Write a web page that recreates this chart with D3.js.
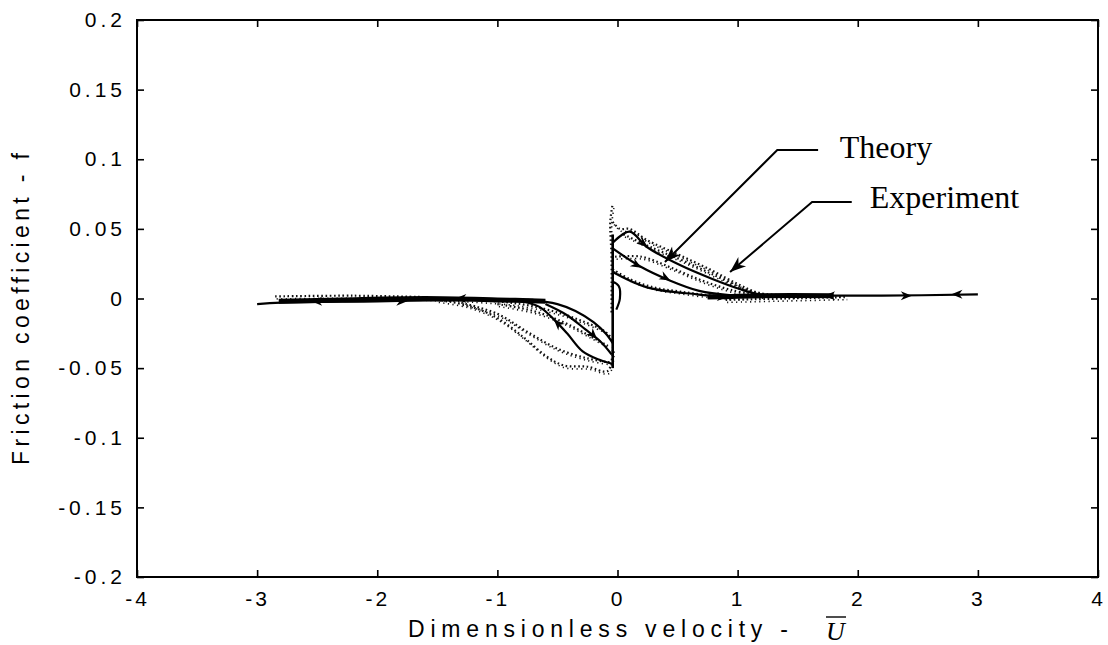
<!DOCTYPE html>
<html>
<head>
<meta charset="utf-8">
<script src="https://cdn.jsdelivr.net/npm/d3@7"></script>
<style>
  html, body { margin: 0; padding: 0; background: #fff; }
  svg { display: block; }
</style>
</head>
<body>
<svg id="chart" width="1108" height="645"></svg>
<script>
// ---------- data ----------
const xTicks = [-4, -3, -2, -1, 0, 1, 2, 3, 4];
const xTickLabels = ["-4", "-3", "-2", "-1", "0", "1", "2", "3", "4"];
const yTicks = [-0.2, -0.15, -0.1, -0.05, 0, 0.05, 0.1, 0.15, 0.2];
const yTickLabels = ["-0.2", "-0.15", "-0.1", "-0.05", "0", "0.05", "0.1", "0.15", "0.2"];

// Theory (solid) curves, [U, f]
const theoryFlatLeft = [[-3.0, -0.004], [-2.8, -0.003], [-2.0, -0.002], [-1.2, -0.001], [-0.7, -0.001]];
const theoryFlatRight = [[0.85, 0.001], [1.5, 0.002], [2.2, 0.002], [3.0, 0.003]];
const theoryBandLeft = [[-2.82, -0.002], [-2.3, -0.001], [-1.6, 0.0], [-1.0, -0.001], [-0.6, -0.002]];
const theoryBandRight = [[0.75, 0.001], [1.2, 0.002], [1.8, 0.002]];
const theoryNegUpper = [[-0.75, -0.001], [-0.5, -0.004], [-0.35, -0.009], [-0.2, -0.017], [-0.1, -0.025], [-0.04, -0.032]];
const theoryNegMid = [[-0.6, -0.004], [-0.42, -0.012], [-0.27, -0.022], [-0.14, -0.031], [-0.05, -0.04]];
const theoryNegLower = [[-0.04, -0.047], [-0.15, -0.044], [-0.29, -0.038], [-0.42, -0.025], [-0.53, -0.015], [-0.65, -0.006], [-0.8, -0.002]];
const theoryJump = [[-0.04, -0.05], [-0.04, 0.046]];
const theoryPosOuter = [[-0.04, 0.04], [0.1, 0.048], [0.245, 0.037], [0.52, 0.024], [0.79, 0.014], [1.01, 0.007], [1.18, 0.003], [1.4, 0.002]];
const theoryPosInner = [[-0.04, 0.036], [0.19, 0.023], [0.435, 0.013], [0.68, 0.0055], [0.93, 0.0025], [1.2, 0.002]];
const theoryPosLower = [[-0.04, 0.019], [0.245, 0.008], [0.66, 0.003], [0.95, 0.001]];
const theoryHook = [[-0.04, 0.012], [0.01, 0.009], [0.02, 0.0], [-0.01, -0.008]];

// Experiment (dotted) traces
const expSpike = [[-0.05, -0.01], [-0.05, 0.03], [-0.06, 0.055], [-0.04, 0.068]];
const expPosUpper = [[-0.04, 0.055], [0.02, 0.05], [0.1, 0.05], [0.245, 0.042], [0.52, 0.031], [0.79, 0.02], [1.01, 0.01], [1.18, 0.004], [1.5, 0.002]];
const expPosUpper2 = [[0.05, 0.046], [0.3, 0.036], [0.55, 0.027], [0.8, 0.017], [1.05, 0.007], [1.25, 0.002]];
const expPosMid = [[-0.02, 0.03], [0.2, 0.03], [0.45, 0.022], [0.7, 0.013], [0.95, 0.006], [1.2, 0.002]];
const expPosLower = [[-0.04, 0.021], [0.1, 0.014], [0.3, 0.008], [0.52, 0.005], [0.8, 0.002], [1.05, 0.001]];
const expNegUpper = [[-1.8, 0.001], [-1.2, -0.001], [-0.8, -0.004], [-0.5, -0.01], [-0.3, -0.016], [-0.1, -0.024], [-0.04, -0.03]];
const expNegUpper2 = [[-1.0, -0.004], [-0.7, -0.009], [-0.45, -0.017], [-0.25, -0.026], [-0.08, -0.034]];
const expNegMid = [[-1.3, -0.003], [-1.0, -0.011], [-0.75, -0.024], [-0.5, -0.036], [-0.25, -0.043], [-0.06, -0.046]];
const expNegLower = [[-1.5, -0.001], [-1.25, -0.005], [-1.0, -0.014], [-0.78, -0.028], [-0.6, -0.041], [-0.45, -0.048], [-0.25, -0.049], [-0.08, -0.052], [-0.04, -0.035]];
const expFlatLeft = [[-2.85, 0.0015], [-2.2, 0.002], [-1.6, 0.001]];
const expFlatRight = [[0.9, -0.001], [1.4, 0.0], [1.9, 0.001]];

// Arrowheads on theory curves: [fromU, fromF, toU, toF]
const theoryArrows = [
  [-2.45, -0.002, -2.55, -0.002],
  [-1.85, -0.002, -1.75, -0.002],
  [-1.25, 0.0, -1.35, 0.0],
  [-0.45, -0.022, -0.53, -0.015],
  [-0.25, -0.022, -0.17, -0.029],
  [0.15, 0.044, 0.25, 0.037],
  [0.12, 0.026, 0.2, 0.022],
  [0.35, 0.017, 0.44, 0.013],
  [0.8, 0.0015, 0.92, 0.001],
  [1.82, 0.002, 1.72, 0.002],
  [2.35, 0.002, 2.45, 0.002],
  [2.88, 0.003, 2.78, 0.003]
];

// Annotations (label, text anchor, leader polyline in data units)
const annotationLabels = ["Theory", "Experiment"];
const annotationText = [[1.85, 0.101], [2.1, 0.065]];
const annotationLeaders = [
  [[1.67, 0.1066], [1.33, 0.1066], [0.395, 0.0262]],
  [[1.95, 0.0693], [1.62, 0.0693], [0.937, 0.019]]
];

// ---------- drawing ----------
const svg = d3.select("#chart");
const L = 137, R = 1098, T = 20, B = 577;
const x = d3.scaleLinear().domain([-4, 4]).range([L, R]);
const y = d3.scaleLinear().domain([-0.2, 0.2]).range([B, T]);

const tickFont = "'Liberation Sans', Arial, sans-serif";

// axes
const axB = d3.axisBottom(x).tickValues(xTicks).tickSizeInner(-7).tickSizeOuter(0).tickPadding(14)
  .tickFormat((d, i) => xTickLabels[i]);
const axT = d3.axisTop(x).tickValues(xTicks).tickSizeInner(-7).tickSizeOuter(0).tickFormat("");
const axLft = d3.axisLeft(y).tickValues(yTicks).tickSizeInner(-7).tickSizeOuter(0).tickPadding(11)
  .tickFormat((d, i) => yTickLabels[i]);
const axRt = d3.axisRight(y).tickValues(yTicks).tickSizeInner(-7).tickSizeOuter(0).tickFormat("");

function styleAxis(g, spacing) {
  g.select(".domain").remove();
  g.selectAll(".tick line").attr("stroke", "#000").attr("stroke-width", 1.6);
  g.selectAll(".tick text").attr("fill", "#000").style("font-family", tickFont)
    .style("font-size", "21px").style("letter-spacing", spacing + "px");
}
svg.append("g").attr("transform", `translate(0,${B})`).call(axB).call(styleAxis, 3);
svg.append("g").attr("transform", `translate(0,${T})`).call(axT).call(styleAxis, 3);
svg.append("g").attr("transform", `translate(${L},0)`).call(axLft).call(styleAxis, 4);
svg.append("g").attr("transform", `translate(${R},0)`).call(axRt).call(styleAxis, 4);

svg.append("rect").attr("x", L).attr("y", T).attr("width", R - L).attr("height", B - T)
  .attr("fill", "none").attr("stroke", "#000").attr("stroke-width", 2);

// axis titles
svg.append("text").attr("x", 408).attr("y", 637)
  .attr("textLength", 380).attr("lengthAdjust", "spacing")
  .style("font-family", "'Liberation Sans Narrow', 'Liberation Sans', Arial, sans-serif")
  .style("font-size", "23px").attr("fill", "#000")
  .text("Dimensionless velocity -");
const ubar = svg.append("g");
ubar.append("text").attr("x", 826).attr("y", 640)
  .style("font-family", "'Liberation Serif', 'Times New Roman', serif").style("font-style", "italic")
  .style("font-size", "26px").attr("fill", "#000").text("U");
ubar.append("line").attr("x1", 826).attr("x2", 846).attr("y1", 617).attr("y2", 617)
  .attr("stroke", "#000").attr("stroke-width", 1.4);

svg.append("text").attr("transform", "translate(29,309) rotate(-90)")
  .attr("text-anchor", "middle")
  .attr("textLength", 312).attr("lengthAdjust", "spacing")
  .style("font-family", "'Liberation Sans Narrow', 'Liberation Sans', Arial, sans-serif")
  .style("font-size", "23px").attr("fill", "#000")
  .text("Friction coefficient - f");

// curves
const line = d3.line().x(d => x(d[0])).y(d => y(d[1])).curve(d3.curveCatmullRom.alpha(0.5));
const straight = d3.line().x(d => x(d[0])).y(d => y(d[1]));

const plot = svg.append("g");

// experiment dotted traces
const expTraces = [expSpike, expPosUpper, expPosUpper2, expPosMid, expPosLower, expNegUpper, expNegUpper2, expNegMid, expNegLower, expFlatLeft, expFlatRight];
plot.selectAll("path.exp").data(expTraces).join("path").attr("class", "exp")
  .attr("d", line).attr("fill", "none").attr("stroke", "#111").attr("stroke-width", 2.2)
  .attr("stroke-dasharray", "1.6,2.6");
plot.selectAll("path.exp2").data(expTraces).join("path").attr("class", "exp2")
  .attr("d", line).attr("fill", "none").attr("stroke", "#111").attr("stroke-width", 1.6)
  .attr("stroke-dasharray", "1.2,3.4").attr("transform", "translate(1.5,2.5)");

// theory solid
const theoryTraces = [theoryFlatLeft, theoryFlatRight, theoryNegUpper, theoryNegMid, theoryNegLower,
  theoryPosOuter, theoryPosInner, theoryPosLower, theoryHook];
plot.selectAll("path.th").data(theoryTraces).join("path").attr("class", "th")
  .attr("d", line).attr("fill", "none").attr("stroke", "#000").attr("stroke-width", 2.2);
plot.append("path").attr("d", straight(theoryJump)).attr("fill", "none").attr("stroke", "#000").attr("stroke-width", 2.6);
plot.selectAll("path.band").data([theoryBandLeft, theoryBandRight]).join("path").attr("class", "band")
  .attr("d", line).attr("fill", "none").attr("stroke", "#000").attr("stroke-width", 5);

// arrowheads
function arrowPath(x0, y0, x1, y1, len, hw) {
  const dx = x1 - x0, dy = y1 - y0, n = Math.hypot(dx, dy) || 1;
  const ux = dx / n, uy = dy / n;
  const bx = x1 - ux * len, by = y1 - uy * len;
  return `M${x1},${y1}L${bx - uy * hw},${by + ux * hw}L${bx + ux * len * 0.3},${by + uy * len * 0.3}L${bx + uy * hw},${by - ux * hw}Z`;
}
plot.selectAll("path.arr").data(theoryArrows).join("path").attr("class", "arr")
  .attr("d", d => arrowPath(x(d[0]), y(d[1]), x(d[2]), y(d[3]), 11, 4.5))
  .attr("fill", "#000");

// annotations
const ann = svg.append("g");
annotationLeaders.forEach(pts => {
  ann.append("path").attr("d", straight(pts)).attr("fill", "none").attr("stroke", "#000").attr("stroke-width", 2);
  const a = pts[pts.length - 2], b = pts[pts.length - 1];
  ann.append("path").attr("d", arrowPath(x(a[0]), y(a[1]), x(b[0]), y(b[1]), 16, 6)).attr("fill", "#000");
});
ann.selectAll("text.ann").data(annotationLabels).join("text").attr("class", "ann")
  .attr("x", (d, i) => x(annotationText[i][0])).attr("y", (d, i) => y(annotationText[i][1]))
  .style("font-family", "'Liberation Serif', 'Times New Roman', serif").style("font-size", "32px")
  .attr("fill", "#000").text(d => d);
</script>
</body>
</html>
